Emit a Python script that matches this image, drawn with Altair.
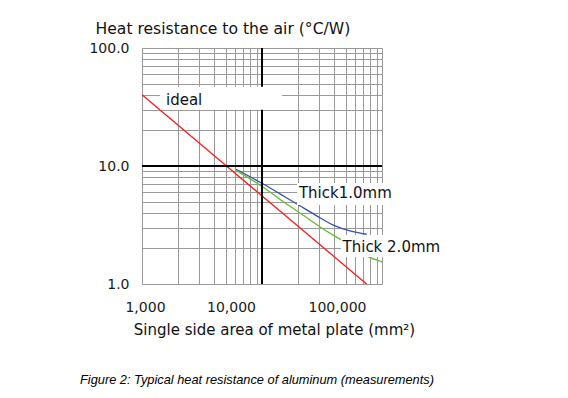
import altair as alt
import pandas as pd

# ---- data ----
x_grid = [1000, 2000, 3000, 4000, 5000, 6000, 7000, 8000, 9000,
          10000, 20000, 30000, 40000, 50000, 60000, 70000, 80000, 90000, 100000]
y_grid = [1, 2, 3, 4, 5, 6, 7, 8, 9, 10, 20, 30, 40, 50, 60, 70, 80, 90, 100]

ideal_area = [1000, 5000, 74500]
ideal_res = [40.1, 10.1, 1.0]

thick1_area = [6070, 10250, 15000, 20700, 28600, 39300, 54100, 74500]
thick1_res = [9.38, 7.03, 5.6, 4.6, 3.78, 3.16, 2.82, 2.64]

thick2_area = [6070, 10250, 15000, 20700, 34600, 44700, 74500, 100000]
thick2_res = [9.18, 6.6, 5.0, 4.0, 2.8, 2.4, 1.72, 1.54]

major_x = [10000]
major_y = [10]

labels = ["ideal", "Thick1.0mm", "Thick 2.0mm"]
label_x = [1585, 20300, 46900]
label_y = [33.0, 5.33, 1.87]
box_x = [1413, 19600, 45500]
box_x2 = [14680, 128000, 335000]
box_y = [46.9, 7.18, 2.60]
box_y2 = [30.0, 4.67, 1.69]

series_names = ["ideal", "Thick1.0mm", "Thick 2.0mm"]
series_colors = ["#ff1a1a", "#3352b0", "#66bb33"]

# ---- tables ----
rows = []
for name, xs, ys in [("ideal", ideal_area, ideal_res),
                     ("Thick1.0mm", thick1_area, thick1_res),
                     ("Thick 2.0mm", thick2_area, thick2_res)]:
    for i, (a, r) in enumerate(zip(xs, ys)):
        rows.append({"series": name, "area": a, "res": r, "order": i})
lines_df = pd.DataFrame(rows)
labels_df = pd.DataFrame({"label": labels, "x": label_x, "y": label_y,
                          "bx": box_x, "bx2": box_x2, "by": box_y, "by2": box_y2})
vx_df = pd.DataFrame({"x": major_x})
hy_df = pd.DataFrame({"y": major_y})

FONT = "DejaVu Sans"

xscale = alt.Scale(type="log", domain=[1000, 100000], nice=False)
yscale = alt.Scale(type="log", domain=[1, 100], nice=False)

x_axis = alt.Axis(
    values=x_grid,
    labelExpr="datum.value == 1000 ? '1,000' : datum.value == 10000 ? '10,000' : datum.value == 100000 ? '100,000' : ''",
    labelOffset={"expr": "datum.value == 10000 ? -31 : datum.value == 100000 ? -45 : 3"},
    labelFlush=False, labelOverlap=False, labelBaseline="middle", labelPadding=23,
    labelFont=FONT, labelFontSize=14, labelColor="#1a1a1a",
    ticks=False, tickSize=0, domain=False,
    grid=True, gridColor="#9a9a9a", gridWidth=1,
    title="Single side area of metal plate (mm²)",
    titleFont=FONT, titleFontSize=15, titleFontWeight="normal", titleColor="#111111",
    titleX=132, titleY=45, titleAlign="center", titleBaseline="middle",
)
y_axis = alt.Axis(
    values=y_grid,
    labelExpr="datum.value == 1 ? '1.0' : datum.value == 10 ? '10.0' : datum.value == 100 ? '100.0' : ''",
    labelFlush=False, labelOverlap=False, labelBaseline="middle", labelPadding=13,
    labelFont=FONT, labelFontSize=14, labelColor="#1a1a1a",
    ticks=False, tickSize=0, domain=False,
    grid=True, gridColor="#9a9a9a", gridWidth=1,
    title="Heat resistance to the air (°C/W)",
    titleFont=FONT, titleFontSize=15.6, titleFontWeight="normal", titleColor="#111111",
    titleAngle=0, titleX=-47, titleY=-20, titleAlign="left", titleBaseline="middle",
)

base_lines = alt.Chart(lines_df).mark_line(strokeWidth=1.3, interpolate="monotone").encode(
    x=alt.X("area:Q", scale=xscale, axis=x_axis),
    y=alt.Y("res:Q", scale=yscale, axis=y_axis),
    color=alt.Color("series:N", scale=alt.Scale(domain=series_names, range=series_colors), legend=None),
    order="order:Q",
    detail="series:N",
)

vrule = alt.Chart(vx_df).mark_rule(color="black", strokeWidth=2).encode(
    x=alt.X("x:Q", scale=xscale))
hrule = alt.Chart(hy_df).mark_rule(color="black", strokeWidth=2).encode(
    y=alt.Y("y:Q", scale=yscale))

boxes = alt.Chart(labels_df).mark_rect(fill="white", stroke=None).encode(
    x=alt.X("bx:Q", scale=xscale), x2="bx2:Q",
    y=alt.Y("by:Q", scale=yscale), y2="by2:Q")

texts = alt.Chart(labels_df).mark_text(
    align="left", baseline="alphabetic", font=FONT, fontSize=15, color="#111111"
).encode(
    x=alt.X("x:Q", scale=xscale), y=alt.Y("y:Q", scale=yscale), text="label:N")

chart = alt.layer(base_lines, vrule, hrule, boxes, texts).properties(
    width=240, height=236,
    autosize=alt.AutoSizeParams(type="none"),
    padding={"left": 134, "top": 40, "right": 178, "bottom": 106},
    title=alt.TitleParams(
        text="Figure 2: Typical heat resistance of aluminum (measurements)",
        orient="bottom", anchor="start", frame="group",
        font="Liberation Sans", fontStyle="italic", fontWeight="normal",
        fontSize=12.8, color="black", dx=-62, offset=37,
    ),
).configure_view(stroke="#222222", strokeWidth=1).configure(background="white")

chart.save("out.html", embed_options={"renderer": "svg", "actions": False})
